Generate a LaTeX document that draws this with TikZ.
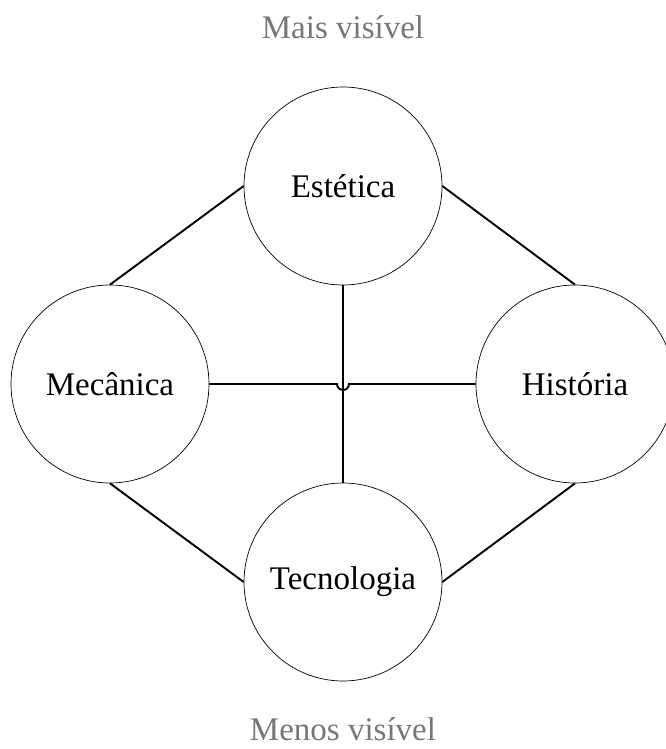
\documentclass[tikz,border=0pt]{standalone}
\usepackage{fontspec}
\setmainfont{Liberation Serif}
\usetikzlibrary{calc}
\definecolor{legenda}{HTML}{777777}

\begin{document}
\begin{tikzpicture}[x=1pt, y=-1pt,
    aspecto/.style={draw, circle, line width=0.7pt, minimum size=198pt,
      inner sep=0pt, font=\fontsize{33}{38}\selectfont},
    eixo/.style={font=\fontsize{33}{38}\selectfont, text=legenda, anchor=base,
      inner sep=0pt},
    ligacao/.style={line width=1.9pt}]
    \useasboundingbox (0,0) rectangle (665,749);
    \node[eixo] (mais) at (343,39) {Mais visível};
    \node[aspecto] (estetica) at (343,186) {Estética};
    \node[aspecto] (mecanica) at (110,384) {Mecânica};
    \node[aspecto] (historia) at (575,384) {História};
    \node[aspecto] (tecnologia) at (343,582) {Tecnologia};
    \node[eixo] (menos) at (343,740) {Menos visível};
    \draw[ligacao] (estetica.west) -- (mecanica.north);
    \draw[ligacao] (estetica.east) -- (historia.north);
    \draw[ligacao] (mecanica.south) -- (tecnologia.west);
    \draw[ligacao] (tecnologia.east) -- (historia.south);
    \draw[ligacao] (estetica.south) -- (tecnologia.north);
    \draw[ligacao] (mecanica.east) -- ([xshift=-6pt]mecanica.east -| estetica.south)
      arc[start angle=180, end angle=360, radius=6pt] -- (historia.west);
  \end{tikzpicture}
\end{document}
